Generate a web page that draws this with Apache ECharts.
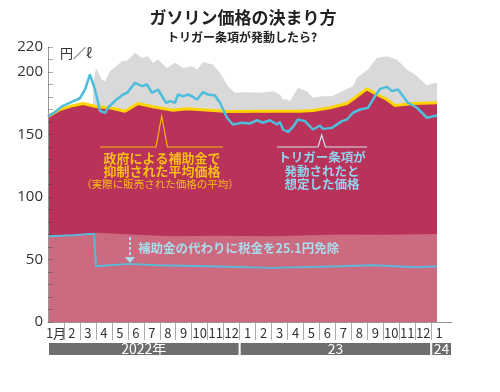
<!DOCTYPE html>
<html><head><meta charset="utf-8">
<script src="https://cdn.jsdelivr.net/npm/echarts@6/dist/echarts.min.js"></script>
<style>html,body{margin:0;padding:0;background:#fff}#c{width:500px;height:392px}</style>
</head><body><div id="c"></div>
<script>
// month labels (x axis), year bands
const monthLabels = ['1月','2','3','4','5','6','7','8','9','10','11','12','1','2','3','4','5','6','7','8','9','10','11','12','1'];
const yearLabels = ['2022年','23','24'];
const yearSpans = [12, 12, 1.3];
// x positions are in months from Jan 2022
// trigger-clause price (upper blue line)
const blueX = [0,0.44,0.88,1.38,2.00,2.32,2.63,2.94,3.26,3.57,3.76,4.2,4.70,4.95,5.45,5.89,6.20,6.51,6.89,7.39,7.64,7.95,8.14,8.45,8.77,9.02,9.33,9.71,10.02,10.46,10.77,11.21,11.58,12.15,12.65,13.09,13.46,13.90,14.34,14.53,14.72,15.03,15.34,15.65,16.09,16.59,17.03,17.22,17.78,18.41,18.72,19.10,19.54,20.04,20.48,20.79,21.23,21.54,21.92,22.54,23.11,23.73,24.36];
const blueY = [164.5,168,172.5,175.5,179,186,198,186,169,167.3,171.4,177,182,183.3,191.3,188.7,190,183.3,186,175.4,176.7,175.4,182,180.6,182,180.6,178,183.9,182,181.2,175.4,163.4,158,159.4,158.8,161.4,159.4,161.4,158,160,154,152,156,162,160.7,154,157.2,154.5,155.3,160.7,162,167.4,170,171.3,180.6,186.5,188.1,184.7,186,175.4,171.4,163.4,165.2];
// price without subsidy (gray area)
const grayX = [2.82,3.01,3.38,3.57,3.88,4.63,4.95,5.45,5.89,6.26,6.57,6.89,7.45,7.95,8.45,9.02,9.33,9.71,10.33,10.77,11.27,11.71,12.46,13.27,14.09,14.53,14.72,14.97,15.15,15.65,16.22,16.59,17.22,17.78,18.41,19.10,19.35,20.04,20.60,21.23,21.85,22.48,23.11,23.73,24.23,24.36];
const grayY = [190,203,194,192.5,200.6,208.6,209,215.4,211.3,212.6,207.4,210,203.3,207.4,203.3,204.7,202,207.8,206,199.4,188.7,183.4,183.9,183.4,184.6,182,178,178,176.6,187.3,184.6,179.4,180.6,180.6,184.6,188.7,195.4,202,211.4,212.6,210,202,196.6,189.2,191.4,191];
// actual average price (yellow line / crimson area)
const yellowX = [0,0.75,1.38,2.19,3.07,3.88,4.82,5.64,6.57,7.83,8.70,10.14,11.21,13.27,15.78,16.59,17.66,18.72,19.35,19.97,20.60,21.23,21.73,22.86,24.36];
const yellowY = [164.5,170,172.5,174.8,172.2,171.4,168.6,174.8,172.2,169.4,170.6,169.4,168.4,168.6,168.6,169.2,171.4,174.8,180.6,186.5,182,178,173.2,174.8,175.4];
// tax portion (pink area)
const pinkX = [0,1.57,2.63,3.07,5.13,7.83,10.5,14.09,16.5,18.28,21.0,24.36];
const pinkY = [69.4,69.8,71,71.4,70,68.6,69,68.6,69.4,70,69.8,70.5];
// tax with 25.1 yen exemption (lower blue line)
const lowX = [0,1.57,2.63,2.88,3.01,5.01,6.83,9.96,14.09,18.28,20.35,23.11,24.36];
const lowY = [68.6,69.4,70.5,70.5,44.6,46.5,45.4,44.6,43.3,44.6,45.4,43.8,44.6];

const FONT = '"Noto Sans CJK JP","Noto Sans",sans-serif';
const zip = (xs, ys) => xs.map((x, i) => [x, ys[i]]);
const tickVals = monthLabels.slice(1).map((_, i) => i + 1).filter(v => v < 25);
const labelVals = monthLabels.map((_, i) => i + 0.5);

const chart = echarts.init(document.getElementById('c'));
chart.setOption({
  animation: false,
  grid: [
    {left: 48, right: 48, top: 47, bottom: 70},
    {left: 48, right: 48, top: 342, height: 14}
  ],
  xAxis: [
    {type: 'value', gridIndex: 0, min: 0, max: 25.3,
     axisLine: {show: true, onZero: false, lineStyle: {color: '#999', width: 1}},
     splitLine: {show: false},
     axisTick: {show: true, customValues: tickVals, length: 18, lineStyle: {color: '#aaa'}},
     axisLabel: {customValues: labelVals, formatter: v => monthLabels[Math.floor(v)],
                 color: '#333', fontSize: 13, margin: 5, fontFamily: FONT}},
    {type: 'value', gridIndex: 1, min: 0, max: 25.3, show: false}
  ],
  yAxis: [
    {type: 'value', gridIndex: 0, min: 0, max: 220, interval: 10, z: 10,
     axisLine: {show: true, lineStyle: {color: '#999'}},
     axisTick: {show: true, inside: true, length: 5, lineStyle: {color: 'rgba(70,70,70,0.45)'}},
     splitLine: {show: false},
     axisLabel: {formatter: v => (v % 50 === 0 || v === 220) ? String(v) : '',
                 fontSize: 15, color: '#333', margin: 5, fontFamily: '"Open Sans",sans-serif'}},
    {type: 'category', gridIndex: 1, data: ['y'], show: false}
  ],
  series: [
    {type: 'line', data: zip(grayX, grayY), symbol: 'none', z: 1,
     lineStyle: {width: 0}, areaStyle: {color: '#d9d9d9', opacity: 1}},
    {type: 'line', data: zip(yellowX, yellowY), symbol: 'none', z: 2,
     lineStyle: {width: 3, color: '#ffd400'}, areaStyle: {color: '#b8325a', opacity: 1}},
    {type: 'line', data: zip(pinkX, pinkY), symbol: 'none', z: 3,
     lineStyle: {width: 0}, areaStyle: {color: '#cc6b7f', opacity: 1}},
    {type: 'line', data: zip(lowX, lowY), symbol: 'none', z: 4,
     lineStyle: {width: 2, color: '#5ab8d8'}},
    {type: 'line', data: zip(blueX, blueY), symbol: 'none', z: 5,
     lineStyle: {width: 2.5, color: '#4fbedc'}},
  ].concat(yearSpans.map((s, i) => ({
    type: 'bar', xAxisIndex: 1, yAxisIndex: 1, stack: 'yr', data: [s], barWidth: '100%',
    itemStyle: {color: '#6e6e6e', borderColor: '#fff', borderWidth: 1},
    label: {show: true, position: 'inside', formatter: yearLabels[i], color: '#fff',
            fontSize: 14, fontFamily: FONT}
  }))),
  graphic: [
    {type: 'text', z: 100, x: 243, y: 18, style: {text: 'ガソリン価格の決まり方', fill: '#222',
      font: 'bold 17px ' + FONT, textAlign: 'center', textVerticalAlign: 'middle'}},
    {type: 'text', z: 100, x: 242, y: 37, style: {text: 'トリガー条項が発動したら?', fill: '#222',
      font: 'bold 12px ' + FONT, textAlign: 'center', textVerticalAlign: 'middle'}},
    {type: 'text', z: 100, x: 60, y: 53, style: {text: '円／ℓ', fill: '#333',
      font: '13px ' + FONT, textAlign: 'left', textVerticalAlign: 'middle'}},
    {type: 'polyline', z: 100, shape: {points: [[100,147],[156,147],[161.7,116],[167.4,147],[223,147]]},
      style: {stroke: '#f5b80f', lineWidth: 1.2, fill: null}},
    {type: 'text', z: 100, x: 162, y: 158.5, style: {text: '政府による補助金で', fill: '#f7be16',
      font: 'bold 13px ' + FONT, textAlign: 'center', textVerticalAlign: 'middle'}},
    {type: 'text', z: 100, x: 162, y: 171.5, style: {text: '抑制された平均価格', fill: '#f7be16',
      font: 'bold 13px ' + FONT, textAlign: 'center', textVerticalAlign: 'middle'}},
    {type: 'text', z: 100, x: 160, y: 184, style: {text: '（実際に販売された価格の平均）', fill: '#f7be16',
      font: '10.5px ' + FONT, textAlign: 'center', textVerticalAlign: 'middle'}},
    {type: 'polyline', z: 100, shape: {points: [[277,147],[318,147],[321.7,135],[325.4,147],[367,147]]},
      style: {stroke: '#d6e4ec', lineWidth: 1.2, fill: null}},
    {type: 'text', z: 100, x: 322, y: 157, style: {text: 'トリガー条項が', fill: '#92d4ee',
      font: 'bold 12.5px ' + FONT, textAlign: 'center', textVerticalAlign: 'middle'}},
    {type: 'text', z: 100, x: 322, y: 171.5, style: {text: '発動されたと', fill: '#92d4ee',
      font: 'bold 12.5px ' + FONT, textAlign: 'center', textVerticalAlign: 'middle'}},
    {type: 'text', z: 100, x: 322, y: 184, style: {text: '想定した価格', fill: '#92d4ee',
      font: 'bold 12.5px ' + FONT, textAlign: 'center', textVerticalAlign: 'middle'}},
    {type: 'line', z: 100, shape: {x1: 130, y1: 237, x2: 130, y2: 257},
      style: {stroke: '#aadcec', lineWidth: 2, lineDash: [3, 2]}},
    {type: 'polygon', z: 100, shape: {points: [[125,257],[135,257],[130,263]]},
      style: {fill: '#aadcec'}},
    {type: 'text', z: 100, x: 138, y: 248, style: {text: '補助金の代わりに税金を25.1円免除', fill: '#aadcec',
      font: 'bold 12.5px ' + FONT, textAlign: 'left', textVerticalAlign: 'middle'}}
  ]
});
</script></body></html>
